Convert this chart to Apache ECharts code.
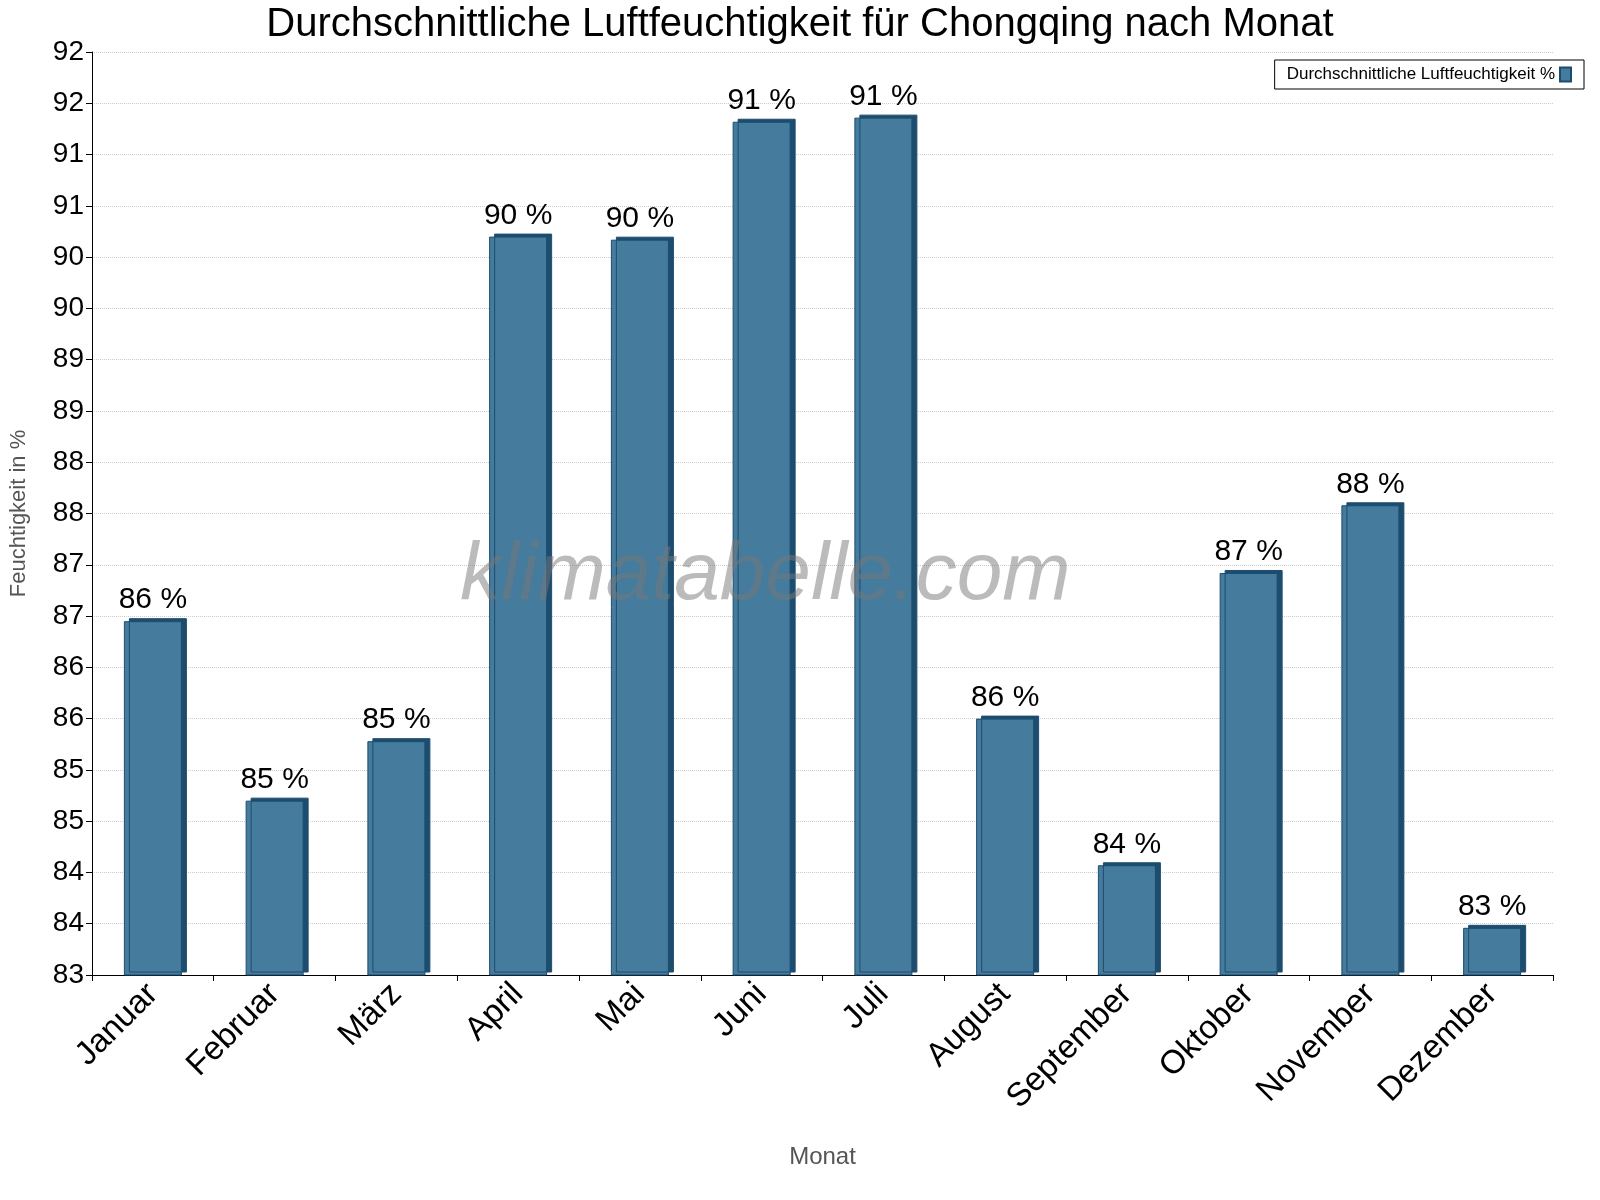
<!DOCTYPE html>
<html><head><meta charset="utf-8">
<script src="https://cdn.jsdelivr.net/npm/echarts@6/dist/echarts.min.js"></script>
<style>html,body{margin:0;padding:0;background:#fff}#c{width:1600px;height:1200px}</style>
</head><body><div id="c"></div>
<script>
var months = ["Januar","Februar","März","April","Mai","Juni","Juli","August","September","Oktober","November","Dezember"];
var humidity = [86.45, 84.7, 85.28, 90.2, 90.17, 91.32, 91.36, 85.5, 84.07, 86.92, 87.58, 83.46];
var seriesName = "Durchschnittliche Luftfeuchtigkeit %";
var chart = echarts.init(document.getElementById('c'));
chart.setOption({
  animation:false,
  title:{text:"Durchschnittliche Luftfeuchtigkeit für Chongqing nach Monat",left:'center',top:0,
    textStyle:{fontFamily:'Arial, Liberation Sans',fontSize:40,fontWeight:'normal',color:'#000'}},
  legend:{right:16,top:60,itemWidth:11,itemHeight:14,borderColor:'#000',borderWidth:1,borderRadius:0,padding:[6,12],
    icon:'rect',align:'right',textStyle:{fontFamily:'Arial, Liberation Sans',fontSize:17,color:'#000'},data:[seriesName]},
  graphic:[{type:'text',left:460,top:535,z:100,style:{text:'klimatabelle.com',fontFamily:'Arial, Liberation Sans',fontStyle:'italic',fontSize:82,fill:'rgba(120,120,120,0.5)'}}],
  grid:{left:83,right:47,top:52,bottom:225},
  xAxis:{type:'category',data:months,name:'Monat',nameLocation:'middle',nameGap:170,
    nameTextStyle:{fontFamily:'Arial, Liberation Sans',fontSize:24,color:'#555'},
    axisLine:{lineStyle:{color:'#000'}},axisTick:{show:true,length:6,lineStyle:{color:'#000'}},
    axisLabel:{rotate:45,fontFamily:'Arial, Liberation Sans',fontSize:33,color:'#000',margin:14}},
  yAxis:{type:'value',min:83,max:92,interval:0.5,name:'Feuchtigkeit in %',nameLocation:'middle',nameGap:62,
    nameTextStyle:{fontFamily:'Arial, Liberation Sans',fontSize:22,color:'#555'},
    axisLine:{show:true,lineStyle:{color:'#000'}},axisTick:{show:true,length:6,lineStyle:{color:'#000'}},
    splitLine:{lineStyle:{color:'#ccc',type:'dotted'}},
    axisLabel:{formatter:function(v){return Math.round(v);},fontFamily:'Arial, Liberation Sans',fontSize:28,color:'#000'}},
  series:[{name:seriesName,type:'bar',data:humidity,barWidth:58,
    itemStyle:{color:'#457b9d',borderColor:'#1d4d6e',borderWidth:1,shadowColor:'#1d4d6e',shadowOffsetX:5,shadowOffsetY:-3,shadowBlur:0},
    label:{show:true,position:'top',distance:6,formatter:function(p){return Math.round(p.value)+' %';},
      fontFamily:'Arial, Liberation Sans',fontSize:30,color:'#000'}}]
});
</script></body></html>
